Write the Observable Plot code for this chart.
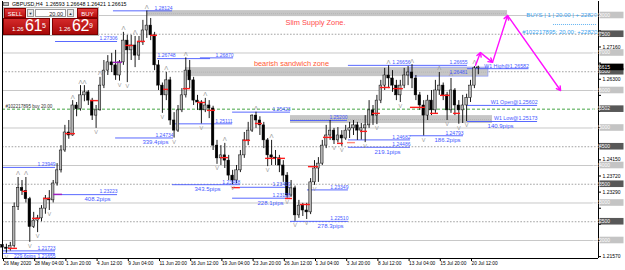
<!DOCTYPE html>
<html><head><meta charset="utf-8">
<script src="https://cdn.jsdelivr.net/npm/d3@7"></script>
<script src="https://cdn.jsdelivr.net/npm/@observablehq/plot@0.6"></script>
<style>
body{margin:0;background:#fff;font-family:"Liberation Sans",Arial,sans-serif}
#wrap{position:relative;width:625px;height:270px;overflow:hidden;background:#fff}
#wrap svg{position:absolute;left:0;top:0}
.ov{position:absolute;box-sizing:border-box;font-family:"Liberation Sans",Arial,sans-serif}
.btn{background:linear-gradient(#e23a3a,#b80f0f);color:#fff;font-size:6px;line-height:10px;text-align:center;border:0.5px solid #8a0000}
.spin{background:#e8e8e8;border:0.5px solid #999;color:#333;font-size:4px;line-height:8px;text-align:center}
.inp{background:#fff;border:0.5px solid #999;color:#222;font-size:5.5px;line-height:8px;text-align:right;padding-right:2px}
.pnl{background:linear-gradient(#d42a2a,#a80808);border:0.5px solid #7a0000;color:#fff}
.pnl span{position:absolute;white-space:nowrap}
</style></head>
<body><div id="wrap"></div>
<script>
// ---------- data ----------
const firstOpen = 1.2188;
const closes = [1.2181,1.2178,1.2186,1.2290,1.2340,1.2332,1.2310,1.2236,1.2253,1.2259,
1.2285,1.2312,1.2307,1.2352,1.2387,1.2440,1.2488,1.2480,1.2560,1.2550,
1.2587,1.2595,1.2573,1.2533,1.2547,1.2613,1.2653,1.2675,1.2667,1.2640,
1.2675,1.2733,1.2707,1.2720,1.2693,1.2728,1.2760,1.2773,1.2747,1.2667,
1.2613,1.2587,1.2627,1.2520,1.2493,1.2547,1.2587,1.2653,1.2627,1.2573,
1.2568,1.2547,1.2560,1.2552,1.2453,1.2419,1.2427,1.2413,1.2373,1.2360,
1.2387,1.2427,1.2467,1.2493,1.2533,1.2520,1.2507,1.2467,1.2427,1.2421,
1.2419,1.2400,1.2373,1.2320,1.2339,1.2267,1.2293,1.2280,1.2275,1.2355,
1.2392,1.2405,1.2453,1.2480,1.2493,1.2467,1.2480,1.2472,1.2493,1.2499,
1.2507,1.2493,1.2499,1.2507,1.2547,1.2533,1.2573,1.2613,1.2640,1.2632,
1.2613,1.2587,1.2613,1.2640,1.2648,1.2632,1.2587,1.2560,1.2533,1.2573,
1.2547,1.2600,1.2613,1.2587,1.2547,1.2600,1.2560,1.2547,1.2560,1.2580,
1.2613,1.2659,1.26615];
const highs = [1.2195,1.2190,1.2195,1.2300,1.2368,1.2360,1.2368,1.2315,1.2275,1.2267,
1.2293,1.2320,1.2333,1.2360,1.2405,1.2453,1.2507,1.2520,1.2573,1.2568,
1.2613,1.2613,1.2600,1.2579,1.2560,1.2635,1.2680,1.2693,1.2699,1.2707,
1.2680,1.2755,1.2747,1.2747,1.2744,1.2744,1.2787,1.2812,1.2792,1.2755,
1.2680,1.2620,1.2648,1.2635,1.2541,1.2560,1.2605,1.2687,1.2680,1.2635,
1.2587,1.2573,1.2579,1.2573,1.2558,1.2467,1.2453,1.2459,1.2427,1.2387,
1.2400,1.2440,1.2488,1.2515,1.2535,1.2542,1.2530,1.2515,1.2472,1.2467,
1.2440,1.2427,1.2413,1.2381,1.2360,1.2345,1.2307,1.2299,1.2299,1.2365,
1.2413,1.2421,1.2467,1.2507,1.2520,1.2499,1.2501,1.2493,1.2507,1.2515,
1.2520,1.2515,1.2512,1.2533,1.2573,1.2560,1.2587,1.2627,1.2659,1.2666,
1.2653,1.2627,1.2627,1.2659,1.2664,1.2669,1.2640,1.2595,1.2573,1.2587,
1.2600,1.2627,1.2648,1.2620,1.2595,1.2632,1.2605,1.2573,1.2587,1.2590,
1.2627,1.2664,1.26648];
const lows = [1.2173,1.2166,1.2172,1.2180,1.2280,1.2320,1.2300,1.2195,1.2232,1.2221,
1.2250,1.2270,1.2280,1.2300,1.2345,1.2380,1.2435,1.2470,1.2478,1.2530,
1.2545,1.2570,1.2560,1.2520,1.2499,1.2545,1.2605,1.2640,1.2648,1.2627,
1.2625,1.2667,1.2621,1.2680,1.2661,1.2680,1.2720,1.2739,1.2733,1.2653,
1.2600,1.2539,1.2573,1.2507,1.2473,1.2488,1.2541,1.2580,1.2605,1.2560,
1.2547,1.2511,1.2541,1.2525,1.2440,1.2403,1.2400,1.2392,1.2360,1.2349,
1.2352,1.2381,1.2419,1.2453,1.2488,1.2499,1.2480,1.2445,1.2397,1.2400,
1.2400,1.2381,1.2355,1.2313,1.2315,1.2251,1.2259,1.2264,1.2256,1.2269,
1.2347,1.2355,1.2400,1.2445,1.2467,1.2456,1.2460,1.2451,1.2467,1.2472,
1.2480,1.2467,1.2468,1.2461,1.2499,1.2507,1.2509,1.2565,1.2600,1.2605,
1.2595,1.2573,1.2568,1.2605,1.2613,1.2605,1.2573,1.2547,1.2479,1.2520,
1.2533,1.2539,1.2587,1.2573,1.2520,1.2539,1.2533,1.2510,1.2512,1.2517,
1.2568,1.2605,1.26421];
const fractalUp = [4,6,18,20,21,25,31,34,37,42,47,52,57,65,69,99,105,112,115,121];
const fractalDown = [1,7,9,12,24,30,32,41,44,51,55,59,68,73,75,78,80,85,87,93,96,102,108,114,117,119];

const xTicks = [0,16,32,48,64,80,96,112,128,144,160,176,192,208,224,240];
const xTickLabels = ["26 May 2020","28 May 04:00","1 Jun 20:00","4 Jun 12:00","9 Jun 04:00","11 Jun 20:00","16 Jun 12:00","19 Jun 04:00","23 Jun 20:00","26 Jun 12:00","1 Jul 04:00","3 Jul 20:00","8 Jul 12:00","13 Jul 04:00","15 Jul 20:00","20 Jul 12:00"];
const yTicks = [1.21570,1.22000,1.22430,1.22860,1.23290,1.23720,1.24150,1.24580,1.25010,1.25440,1.25870,1.26300,1.26730,1.27160,1.27590,1.28020];
const roundLevels = [1.22,1.23,1.24,1.25,1.26,1.27,1.28];
const halfLevels = [1.225,1.235,1.245,1.265,1.275];
const orderPrice = 1.25502;
const bidPrice = 1.26615;

// [fromBar, toBar, price]
const redMarks = [[3.1,7.7,1.2179],[10.3,12.8,1.2331],[15.4,19.5,1.2259],[21,24.6,1.2312],[32.3,37.4,1.2485],
[45.1,49.2,1.2573],[63.1,67.2,1.2720],[69.2,73.3,1.2731],[75.9,79.5,1.2747],[82.6,85.1,1.2603],[92.8,96.4,1.2605],
[100,104.1,1.2568],[105.1,109.2,1.2547],[111.8,115.9,1.2421],[117.9,122,1.2341],[123.6,127.2,1.2467],[129.7,133.3,1.2512],
[134.9,140,1.2419],[141,145.1,1.2419],[145.1,148.7,1.2312],[152.8,157.9,1.2296],[156.9,162.1,1.2397],[164.6,169.2,1.2475],
[171.8,174.9,1.2459],[183.6,187.2,1.2491],[189.7,193.8,1.2539],[193.8,199,1.2608],[200.5,205.6,1.2605],[209.2,216.9,1.2555],
[219.5,223.6,1.2539],[224.6,229.7,1.2587],[231.3,234.9,1.2539]];
const salmonMarks = [[176.9,181,1.2461]];
const purpleMarks = [[56.9,61.5,1.2675],[26.2,30.8,1.2323]];

// [fromBar, toBar, price, label, labelSide]
const levelLines = [
 [56.9,87.2,1.28124,"1.28124","end"],
 [27.2,59.0,1.27306,"1.27306","end"],
 [79.5,106.7,1.26850,"1.26748","start"],
 [101.5,118.5,1.26870,"1.26870","end"],
 [177.4,209.2,1.26670,"1.26656","end"],
 [209.2,238.5,1.26670,"1.26655","end"],
 [118.0,147.7,1.25423,"1.25423","end"],
 [147.7,176.9,1.25200,"1.25200","end"],
 [87.7,118.0,1.25111,"1.25111","end"],
 [58.0,87.7,1.24734,"1.24734","end"],
 [0,27.2,1.23949,"1.23949","end"],
 [26.2,59.0,1.23223,"1.23223","end"],
 [87.2,122.0,1.23488,"1.23488","end"],
 [122.0,147.7,1.23419,"1.23419","end"],
 [118.0,147.7,1.23128,"1.23128","end"],
 [156.4,177.4,1.23349,"1.23349","end"],
 [147.7,177.4,1.22510,"1.22510","end"],
 [177.4,209.2,1.24682,"1.24682","end"],
 [177.4,209.2,1.24486,"1.24486","end"],
 [209.2,236.4,1.24793,"1.24793","end"],
 [0,27.2,1.21723,"1.21723","end"],
 [0,27.2,1.21655,"1.21655","below"]
];
// [endBar, price, text]
const pipLabels = [[85.1,1.24734,"339.4pips"],[55.4,1.23223,"408.2pips"],[111.8,1.23488,"343.5pips"],
[144.1,1.23128,"228.1pips"],[174.9,1.22510,"278.3pips"],[204.1,1.24486,"219.1pips"],[234.9,1.24793,"186.2pips"],
[262.1,1.25173,"140.9pips"]];
const bottomPip = [[17,1.21655,"229.6pips"]];
// weekly levels [fromBar, toBar, price, label]
const weekly = [[238.5,270,1.26582,"W1 High@1.26582"],[238.5,274.4,1.25602,"W1 Open@1.25602"],[238.5,274.4,1.25173,"W1 Low@1.25173"]];
// zones [fromBar, toBar, top, bottom]
const zones = [[74.4,259,1.2813,1.2797],[93.8,249.2,1.2661,1.2637],[147.7,251.3,1.2533,1.2512]];
const zoneBox = [[209.2,249.2,1.2661,1.2637]];
const boxLabels = [[238.5,1.26481,"1.26481"]];
const zoneTexts = [["Slim Supply Zone.",160.5,1.2781,"#ff4a4a"],["bearish sandwich zone",148.2,1.2672,"#ff5a36"]];
const magentaBars = [242.6,245.1,251.3,259,286.2];
const magentaPrices = [1.2667,1.2701,1.2675,1.2800,1.2600];
const tradeTexts = [[305.1,1.2800,"BUYS | 1 | 20.00 | + 22820"],[305.1,1.2755,"#102217895: 20.00: +22820"]];
const tradeRule = [[282.6,305.1,1.2776]];

// ---------- derived ----------
const candles = closes.map((c,k)=>({i:2*k, o:k?closes[k-1]:firstOpen, h:highs[k], l:lows[k], c}));
const magentaSegs = magentaBars.slice(1).map((b,j)=>({x1:magentaBars[j],y1:magentaPrices[j],x2:b,y2:magentaPrices[j+1]}));
const boxes = [
  ...roundLevels.map(v=>({v,t:v.toFixed(5),bg:"#c4c4c4"})),
  ...halfLevels.map(v=>({v,t:v.toFixed(5),bg:"#585858"})),
  {v:orderPrice,t:orderPrice.toFixed(5),bg:"#585858"},
  {v:bidPrice,t:bidPrice.toFixed(5),bg:"#000"}
];
// tick labels that the price boxes cover are not shown (as in the reference)
const pxPerUnit = 257/(1.28373-1.2152);
const visibleYTicks = yTicks.filter(t=>boxes.every(b=>Math.abs(b.v-t)*pxPerUnit>5.5));
const blue = "#4658ff";
const ffam = "'Liberation Sans', Arial, sans-serif";

const chart = Plot.plot({
  width:625, height:270,
  marginLeft:2, marginRight:27, marginTop:1, marginBottom:12,
  style:{fontFamily:ffam, fontSize:"5px", background:"#fff", color:"#000"},
  x:{domain:[0,305.64], axis:null},
  y:{domain:[1.2152,1.28373], axis:null},
  marks:[
    Plot.ruleY(roundLevels,{stroke:"#c8c8c8",strokeWidth:1}),
    Plot.ruleY(halfLevels,{stroke:"#8a8a8a",strokeWidth:0.8,strokeDasharray:"1.6,1.6"}),
    Plot.rect(zones,{x1:d=>d[0],x2:d=>d[1],y1:d=>d[2],y2:d=>d[3],fill:"#c6c6c6"}),
    Plot.ruleY(zones,{x1:d=>d[0],x2:d=>d[1],y:d=>(d[2]+d[3])/2,stroke:"#a8a8a8",strokeWidth:0.6,strokeDasharray:"1,1"}),
    Plot.ruleY([orderPrice],{stroke:"#2e9b2e",strokeWidth:0.9,strokeDasharray:"3,2"}),
    Plot.text([orderPrice],{x:()=>1.5,y:d=>d,text:()=>"#102217895 buy 20.00",textAnchor:"start",dy:-3,fontSize:4.6,fill:"#333"}),
    Plot.rect(zoneBox,{x1:d=>d[0],x2:d=>d[1],y1:d=>d[2],y2:d=>d[3],fill:"none",stroke:"#8a98ff",strokeWidth:0.7}),
    // level lines
    Plot.ruleY(levelLines,{x1:d=>d[0],x2:d=>d[1],y:d=>d[2],stroke:blue,strokeWidth:0.9}),
    Plot.ruleY(weekly,{x1:d=>d[0],x2:d=>d[1],y:d=>d[2],stroke:blue,strokeWidth:0.9}),
    // candles
    Plot.ruleX(candles,{x:"i",y1:"l",y2:"h",stroke:"#000",strokeWidth:0.9}),
    Plot.rect(candles,{x1:d=>d.i-0.65,x2:d=>d.i+0.65,y1:d=>Math.min(d.o,d.c),y2:d=>Math.max(d.o,d.c),
      fill:d=>d.c>=d.o?"#b4b4b4":"#000",stroke:"#000",strokeWidth:0.5}),
    // red close marks
    Plot.ruleY(redMarks,{x1:d=>d[0],x2:d=>d[1],y:d=>d[2],stroke:"#ff1c1c",strokeWidth:1.4}),
    Plot.ruleY(salmonMarks,{x1:d=>d[0],x2:d=>d[1],y:d=>d[2],stroke:"#ff8a7a",strokeWidth:1.4}),
    Plot.ruleY(purpleMarks,{x1:d=>d[0],x2:d=>d[1],y:d=>d[2],stroke:"#a020c0",strokeWidth:1.4}),
    // fractals
    Plot.text(fractalUp.map(k=>candles[k]),{x:"i",y:"h",text:()=>"Λ",dy:-4,fontSize:6,fill:"#9a9a9a"}),
    Plot.text(fractalDown.map(k=>candles[k]),{x:"i",y:"l",text:()=>"V",dy:4,fontSize:5.5,fill:"#9a9a9a"}),
    // labels
    Plot.text(levelLines.filter(d=>d[4]==="end"),{x:d=>d[1],y:d=>d[2],text:d=>d[3],textAnchor:"end",dy:-2.8,fontSize:5,fill:blue}),
    Plot.text(levelLines.filter(d=>d[4]==="below"),{x:d=>d[1],y:d=>d[2],text:d=>d[3],textAnchor:"end",dy:2.6,fontSize:5,fill:blue}),
    Plot.text(levelLines.filter(d=>d[4]==="start"),{x:d=>d[0],y:d=>d[2],text:d=>d[3],textAnchor:"start",dy:-2.8,fontSize:5,fill:blue}),
    Plot.text(boxLabels,{x:d=>d[0],y:d=>d[1],text:d=>d[2],textAnchor:"end",fontSize:5,fill:blue}),
    Plot.text(pipLabels,{x:d=>d[0],y:d=>d[1],text:d=>d[2],textAnchor:"end",dy:4.5,fontSize:6,fill:blue}),
    Plot.text(bottomPip,{x:d=>d[0],y:d=>d[1],text:d=>d[2],textAnchor:"end",dy:3.2,fontSize:5,fill:blue}),
    Plot.text(weekly,{x:d=>d[1],y:d=>d[2],text:d=>d[3],textAnchor:"end",dy:-2.8,fontSize:5.3,fill:blue}),
    Plot.text(zoneTexts,{x:d=>d[1],y:d=>d[2],text:d=>d[0],fill:d=>d[3],fontSize:7.4}),
    // magenta projection
    Plot.arrow(magentaSegs,{x1:"x1",y1:"y1",x2:"x2",y2:"y2",stroke:"#ff10ff",strokeWidth:1.4,headLength:5}),
    // trade info
    Plot.ruleY(tradeRule,{x1:d=>d[0],x2:d=>d[1],y:d=>d[2],stroke:"#39a0ef",strokeWidth:0.8,strokeDasharray:"1,1"}),
    Plot.text(tradeTexts,{x:d=>d[0],y:d=>d[1],text:d=>d[2],textAnchor:"end",fontSize:6,fill:"#36a2ef"}),
    // frame
    Plot.ruleX([0,305.64],{stroke:"#000",strokeWidth:1}),
    Plot.ruleY([1.2152],{stroke:"#000",strokeWidth:1}),
    // axes
    Plot.axisY({anchor:"right",ticks:yTicks,tickFormat:()=>"",tickSize:2,label:null}),
    Plot.axisY({anchor:"right",ticks:visibleYTicks,tickFormat:d=>d.toFixed(5),tickSize:0,tickPadding:4,fontSize:5,label:null}),
    Plot.axisX({anchor:"bottom",ticks:xTicks,tickFormat:d=>xTickLabels[xTicks.indexOf(d)],tickSize:3,tickPadding:0,textAnchor:"start",dx:1,fontSize:4.8,label:null})
  ]
});
const wrap = document.getElementById("wrap");
wrap.append(chart);

// price boxes on the right scale
const ys = chart.scale("y");
const svg = d3.select(chart);
const g = svg.append("g");
boxes.forEach(b=>{
  const y = ys.apply(b.v);
  g.append("rect").attr("x",599.5).attr("y",y-3.3).attr("width",24).attr("height",6.6).attr("fill",b.bg);
  g.append("text").attr("x",601).attr("y",y+1.8).attr("font-size",5).attr("fill","#fff").text(b.t);
});

// trading panel overlay
const html = `
<div class="ov" style="left:12px;top:1px;font-size:5.3px;line-height:6px;color:#000;white-space:nowrap">GBPUSD,H4&nbsp; 1.26593 1.26648 1.26421 1.26615</div>
<div class="ov" style="left:3px;top:2px;width:6px;height:4px;background:#c0c0c0;border:0.5px solid #777"></div>
<div class="ov" style="left:3px;top:7px;width:96px;height:29px;background:#f4f4f4;border:0.5px solid #bbb"></div>
<div class="ov btn" style="left:4px;top:8px;width:22px;height:10px">SELL</div>
<div class="ov spin" style="left:27px;top:9px;width:7px;height:8px">▼</div>
<div class="ov inp" style="left:35px;top:9px;width:31px;height:8px">20.00</div>
<div class="ov spin" style="left:67px;top:9px;width:7px;height:8px">▲</div>
<div class="ov btn" style="left:77px;top:8px;width:21px;height:10px">BUY</div>
<div class="ov pnl" style="left:3px;top:18px;width:47px;height:17px">
 <span style="left:8px;top:7px;font-size:6px;line-height:6px">1.26</span>
 <span style="left:21px;top:-1px;font-size:16px;line-height:16px;letter-spacing:-0.5px">61</span>
 <span style="left:38px;top:2.5px;font-size:7px;line-height:7px">5</span>
</div>
<div class="ov pnl" style="left:52px;top:18px;width:46px;height:17px">
 <span style="left:6px;top:7px;font-size:6px;line-height:6px">1.26</span>
 <span style="left:19px;top:-1px;font-size:16px;line-height:16px;letter-spacing:-0.5px">62</span>
 <span style="left:36px;top:2.5px;font-size:7px;line-height:7px">9</span>
</div>`;
wrap.insertAdjacentHTML("beforeend", html);
</script>
</body></html>
